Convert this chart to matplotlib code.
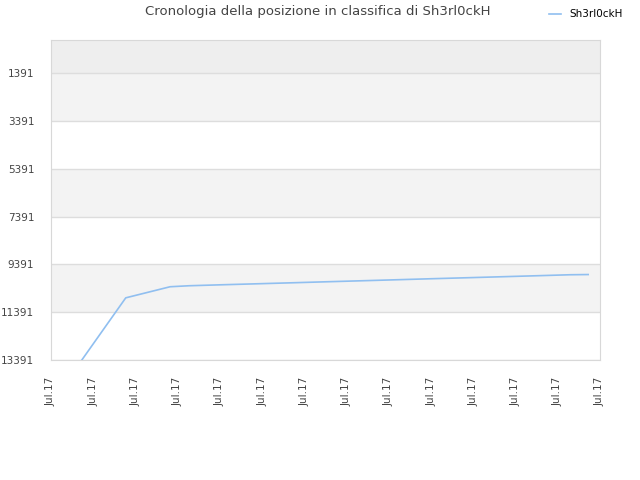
import matplotlib
matplotlib.use("Agg")
import matplotlib.pyplot as plt

# posizioni (in intervalli di tick) e posizione in classifica
giorni = [0.73, 1.77, 2.82, 3.27, 4.07, 4.90, 5.73, 6.54, 7.37, 8.19,
          9.00, 9.83, 10.66, 11.49, 12.29, 12.72]
posizioni = [13391, 10790, 10326, 10284, 10242, 10201, 10159, 10117, 10075,
             10033, 9991, 9950, 9908, 9866, 9824, 9815]
etichette_x = ["Jul.17"] * 14
tick_y = [1391, 3391, 5391, 7391, 9391, 11391, 13391]

fig = plt.figure(figsize=(6.4, 4.8), dpi=100)
ax = fig.add_axes([51 / 640, 120 / 480, 549 / 640, 320 / 480])

# bande alternate
ax.axhspan(1, 1391, color="#eeeeee", zorder=0, lw=0)
for i in range(len(tick_y) - 1):
    if i % 2 == 0:
        ax.axhspan(tick_y[i], tick_y[i + 1], color="#f3f3f3", zorder=0, lw=0)

for y in tick_y:
    ax.axhline(y, color="#dddddd", lw=1, zorder=1)

ax.plot(giorni, posizioni, color="#90bff0", lw=1.2, zorder=3, label="Sh3rl0ckH")

ax.set_xlim(0, 13)
ax.set_ylim(13391, 1)
ax.set_yticks(tick_y)
ax.set_yticklabels([str(v) for v in tick_y])
ax.set_xticks(range(14))
ax.set_xticklabels(etichette_x, rotation=90)
ax.tick_params(axis="both", length=0, labelsize=7.5, labelcolor="#444444")
ax.tick_params(axis="y", pad=12)
ax.tick_params(axis="x", pad=12)

for s in ax.spines.values():
    s.set_color("#d8d8d8")

fig.text(0.497, 0.975, "Cronologia della posizione in classifica di Sh3rl0ckH",
         ha="center", va="center", fontsize=9.5, color="#444444")
fig.legend(loc="upper right", bbox_to_anchor=(0.988, 1.0), frameon=False,
           fontsize=7.5, handlelength=1.2, handletextpad=0.8,
           labelcolor="black")

fig.savefig("out.png", dpi=100)
